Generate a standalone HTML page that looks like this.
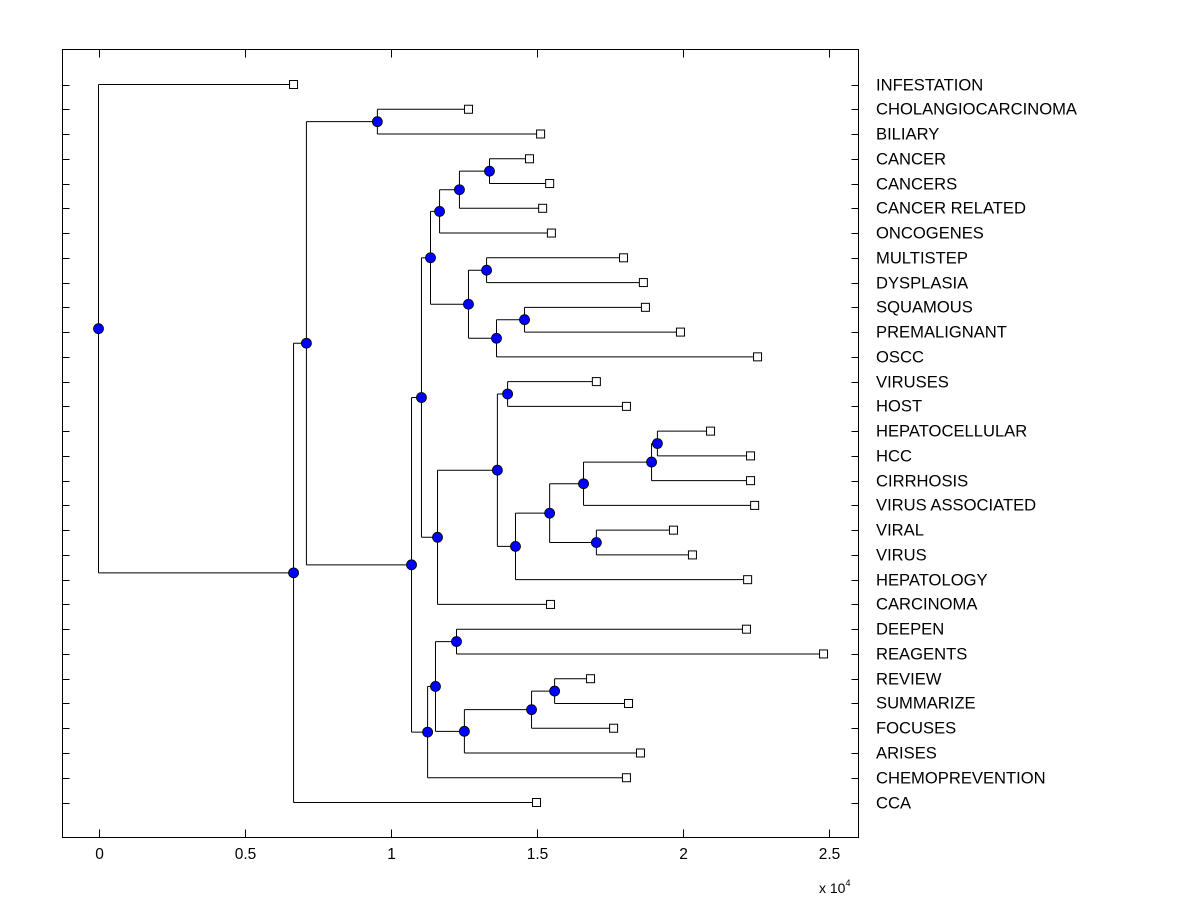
<!DOCTYPE html>
<html><head><meta charset="utf-8"><style>
body{margin:0;background:#fff;}
svg{display:block;font-family:"Liberation Sans",Arial,sans-serif;}
</style></head><body>
<svg id="chart" width="1200" height="900" xmlns="http://www.w3.org/2000/svg">
<rect x="62.5" y="49.5" width="796" height="788" fill="#fff" stroke="#000" stroke-width="1"/>
</svg>
<script>
const leafLabels=["INFESTATION","CHOLANGIOCARCINOMA","BILIARY","CANCER","CANCERS","CANCER RELATED","ONCOGENES","MULTISTEP","DYSPLASIA","SQUAMOUS","PREMALIGNANT","OSCC","VIRUSES","HOST","HEPATOCELLULAR","HCC","CIRRHOSIS","VIRUS ASSOCIATED","VIRAL","VIRUS","HEPATOLOGY","CARCINOMA","DEEPEN","REAGENTS","REVIEW","SUMMARIZE","FOCUSES","ARISES","CHEMOPREVENTION","CCA"];
const leafHeights=[0.668,1.267,1.514,1.476,1.545,1.521,1.551,1.798,1.866,1.873,1.993,2.257,1.705,1.808,2.096,2.233,2.233,2.247,1.969,2.034,2.223,1.548,2.219,2.483,1.685,1.815,1.764,1.856,1.808,1.5];
const mergePairs=[[3,4],[30,5],[31,6],[7,8],[9,10],[34,11],[33,35],[32,36],[12,13],[14,15],[39,16],[40,17],[18,19],[41,42],[43,20],[38,44],[45,21],[37,46],[22,23],[24,25],[49,26],[50,27],[48,51],[52,28],[47,53],[1,2],[55,54],[56,29],[0,57]];
const mergeHeights=[1.339,1.236,1.168,1.329,1.459,1.363,1.267,1.137,1.401,1.914,1.894,1.661,1.705,1.545,1.428,1.366,1.161,1.106,1.226,1.562,1.483,1.253,1.154,1.127,1.072,0.955,0.712,0.668,0];
const xTicks=[0,0.5,1,1.5,2,2.5];
const xTickLabels=["0","0.5","1","1.5","2","2.5"];

const NS="http://www.w3.org/2000/svg";
const svg=document.getElementById('chart');
const X0=62.5,X1=858.5,Y0=49.5,Y1=837.5;
const xmin=-0.1233,xmax=2.6027;
const sx=v=>X0+(v-xmin)/(xmax-xmin)*(X1-X0);
const sy=i=>84.5+i*(718/29);
function mk(tag,attrs){const e=document.createElementNS(NS,tag);for(const k in attrs)e.setAttribute(k,attrs[k]);svg.appendChild(e);return e;}

xTicks.forEach((t,i)=>{
  const x=Math.round(sx(t))+0.5;
  let a=mk('line',{x1:x,x2:x,y1:Y1,y2:Y1-8,stroke:'#000'});
  
  
  let b=mk('line',{x1:x,x2:x,y1:Y0,y2:Y0+8,stroke:'#000'});
  
  
  let tx=mk('text',{x:x,y:859,'text-anchor':'middle','font-size':15.5});
  tx.textContent=xTickLabels[i];
  
  
});
let ex=mk('text',{x:819,y:893,'font-size':14});
ex.innerHTML='x 10<tspan dy="-7" font-size="9">4</tspan>';



const nodeX=[],nodeY=[];
leafLabels.forEach((l,i)=>{nodeX[i]=sx(leafHeights[i]);nodeY[i]=sy(i);});
mergePairs.forEach((p,k)=>{const id=30+k;nodeX[id]=sx(mergeHeights[k]);nodeY[id]=(nodeY[p[0]]+nodeY[p[1]])/2;});

leafLabels.forEach((l,i)=>{
  const y=Math.round(sy(i))+0.5;
  let a=mk('line',{x1:X0,x2:X0+7,y1:y,y2:y,stroke:'#000'});
  
  
  let b=mk('line',{x1:X1,x2:X1-7,y1:y,y2:y,stroke:'#000'});
  
  
  let t=mk('text',{x:876,y:y+5,'font-size':16.6});
  t.textContent=l;
  
  
});

mergePairs.forEach((p,k)=>{
  const id=30+k,x=nodeX[id];
  let v=mk('line',{x1:x,x2:x,y1:nodeY[p[0]],y2:nodeY[p[1]],stroke:'#000'});
  
  
  p.forEach(c=>{
    let h=mk('line',{x1:x,x2:nodeX[c],y1:nodeY[c],y2:nodeY[c],stroke:'#000'});
    
    
  });
});
leafLabels.forEach((l,i)=>{
  let r=mk('rect',{x:nodeX[i]-4,y:nodeY[i]-4,width:8,height:8,fill:'#fff',stroke:'#000'});
  
  
});
mergePairs.forEach((p,k)=>{
  const id=30+k;
  let c=mk('circle',{cx:nodeX[id],cy:nodeY[id],r:5,fill:'#0000ff',stroke:'#000','stroke-width':0.8});
  
  
});
</script>
</body></html>
